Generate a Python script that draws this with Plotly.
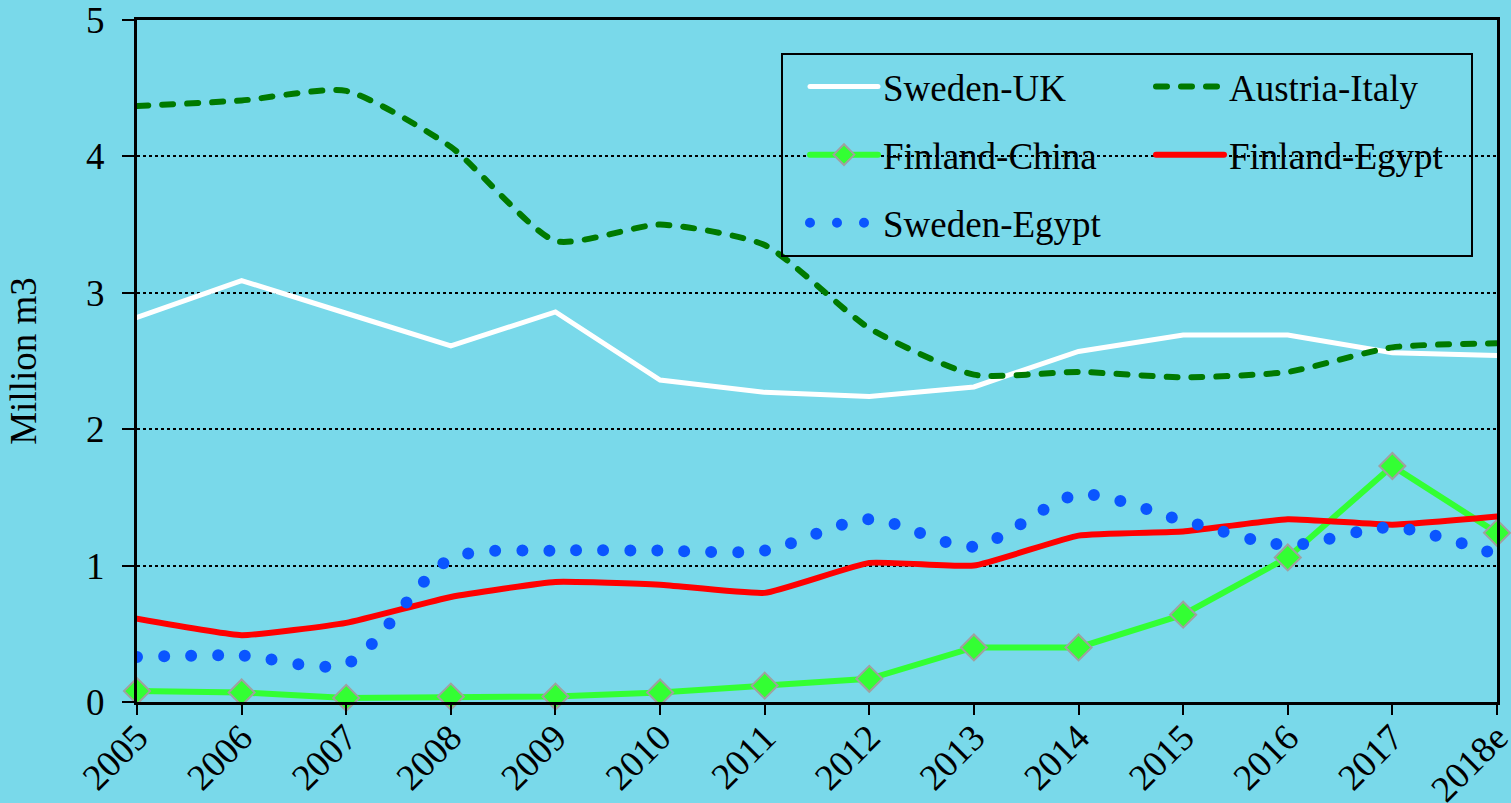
import plotly.graph_objects as go

years = ["2005", "2006", "2007", "2008", "2009", "2010", "2011", "2012",
         "2013", "2014", "2015", "2016", "2017", "2018e"]
sweden_uk = [2.82, 3.09, 2.85, 2.61, 2.86, 2.36, 2.27, 2.24, 2.31, 2.57, 2.69, 2.69, 2.56, 2.54]
austria_italy = [4.37, 4.41, 4.48, 4.07, 3.38, 3.50, 3.35, 2.74, 2.40, 2.42, 2.38, 2.42, 2.60, 2.63]
finland_china = [0.08, 0.07, 0.03, 0.04, 0.04, 0.07, 0.12, 0.17, 0.40, 0.40, 0.64, 1.06, 1.73, 1.24]
finland_egypt = [0.61, 0.49, 0.58, 0.77, 0.88, 0.86, 0.80, 1.02, 1.00, 1.22, 1.25, 1.34, 1.30, 1.36]
sweden_egypt = [0.33, 0.34, 0.28, 1.05, 1.11, 1.11, 1.11, 1.34, 1.14, 1.52, 1.33, 1.15, 1.28, 1.08]

BG = "#79D9EA"
FONT = "Liberation Serif, Times New Roman, serif"
FS = 37

fig = go.Figure()
fig.add_trace(go.Scatter(x=years, y=sweden_uk, name="Sweden-UK", mode="lines",
                         line=dict(color="white", width=5), legend="legend",
                         legendgroup="a", cliponaxis=False))
fig.add_trace(go.Scatter(x=years, y=austria_italy, name="Austria-Italy", mode="lines",
                         line=dict(color="#007A00", width=6, dash="11px,14px", shape="spline", smoothing=0.6),
                         legend="legend2", legendgroup="b", cliponaxis=False))
fig.add_trace(go.Scatter(x=years, y=finland_china, name="Finland-China", mode="lines+markers",
                         line=dict(color="#33FF33", width=6),
                         marker=dict(symbol="diamond", size=20, color="#33FF33",
                                     line=dict(color="#A0A0A0", width=2)),
                         legend="legend", legendgroup="c", cliponaxis=False))
fig.add_trace(go.Scatter(x=years, y=finland_egypt, name="Finland-Egypt", mode="lines",
                         line=dict(color="#FF0000", width=6, shape="spline", smoothing=0.4),
                         legend="legend2", legendgroup="d", cliponaxis=False))
fig.add_trace(go.Scatter(x=years, y=sweden_egypt, name="Sweden-Egypt", mode="lines",
                         line=dict(color="#0A55FF", width=12, dash="0px,27px", shape="spline", smoothing=0.8),
                         legend="legend", legendgroup="e", cliponaxis=False))

legend_common = dict(font=dict(family=FONT, size=FS, color="black"),
                     bgcolor="rgba(0,0,0,0)", borderwidth=0,
                     orientation="v", tracegroupgap=17, itemwidth=68,
                     xanchor="left", yanchor="top")

fig.update_layout(
    width=1511, height=803,
    paper_bgcolor=BG, plot_bgcolor=BG,
    margin=dict(l=137, r=14, t=20, b=101, autoexpand=False),
    font=dict(family=FONT, color="black"),
    showlegend=True,
    legend=dict(x=(805 - 137) / 1360, y=(702 - 56) / 682, **legend_common),
    legend2=dict(x=(1151 - 137) / 1360, y=(702 - 56) / 682, **legend_common),
    xaxis=dict(type="category", range=[0, 13], showgrid=False, automargin=False,
               showline=True, linecolor="black", linewidth=3, mirror=True,
               ticks="outside", ticklen=10, tickwidth=2, tickcolor="black",
               tickangle=-45, tickfont=dict(family=FONT, size=FS),
               ticklabelstandoff=-14, ticklabeloverflow="allow"),
    yaxis=dict(range=[0, 5], dtick=1, showgrid=True, gridcolor="black", automargin=False,
               griddash="dot", gridwidth=1.5, zeroline=False,
               showline=True, linecolor="black", linewidth=3, mirror=True,
               ticks="outside", ticklen=12, tickwidth=2, tickcolor="black",
               tickfont=dict(family=FONT, size=FS),
               ticklabelstandoff=10, ticklabeloverflow="allow",
               title=dict(text="Million m3", font=dict(family=FONT, size=37), standoff=39)),
    shapes=[dict(type="rect", xref="paper", yref="paper",
                 x0=(782 - 137) / 1360, x1=(1472 - 137) / 1360,
                 y0=(702 - 256) / 682, y1=(702 - 54) / 682,
                 line=dict(color="black", width=2), fillcolor="rgba(0,0,0,0)", layer="above")],
)

post = ("var s=document.createElement('style');"
        "s.innerHTML='html,body{margin:0;padding:0;overflow:hidden;} .js-line{stroke-linecap:round;}';"
        "document.head.appendChild(s);")
fig.write_html("out.html", post_script=post, config={"displayModeBar": False})
